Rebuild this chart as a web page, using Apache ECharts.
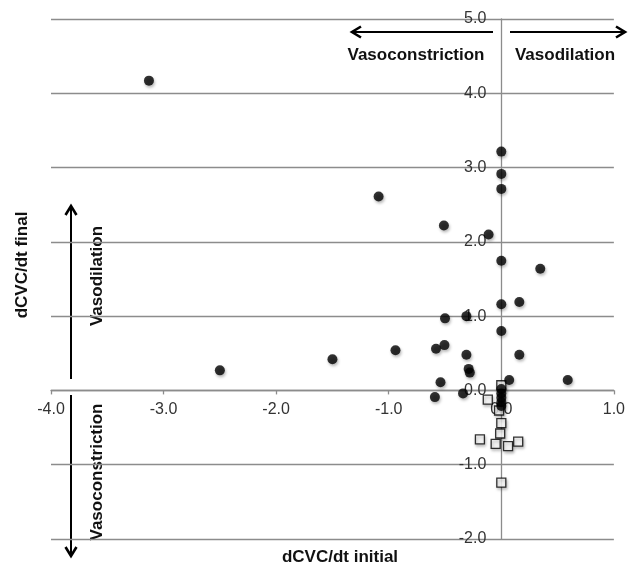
<!DOCTYPE html>
<html>
<head>
<meta charset="utf-8">
<script src="https://cdn.jsdelivr.net/npm/echarts@6/dist/echarts.min.js"></script>
<style>
  html, body { margin: 0; padding: 0; background: #fff; }
  #main { width: 628px; height: 571px; }
</style>
</head>
<body>
<div id="main"></div>
<script>
// filled circles: dCVC/dt initial vs final
var dotInitial = [-3.13, -2.50, -1.50, -1.09, -0.94, -0.58, -0.505, -0.50, -0.51, -0.54, -0.59,
  -0.31, -0.31, -0.29, -0.28, -0.34, -0.113, 0, 0, 0, 0, 0, 0, 0.07, 0.16, 0.16, 0.346, 0.59,
  0, 0, 0, 0, 0];
var dotFinal = [4.17, 0.27, 0.42, 2.61, 0.54, 0.56, 0.61, 0.97, 2.22, 0.11, -0.09,
  1.0, 0.48, 0.29, 0.24, -0.04, 2.10, 3.215, 2.915, 2.713, 1.745, 1.16, 0.80, 0.14, 1.19, 0.48, 1.637, 0.14,
  0.02, -0.04, -0.10, -0.16, -0.21];

// open squares
var sqInitial = [-0.12, 0, -0.02, 0, -0.01, -0.19, -0.05, 0.06, 0.15, 0];
var sqFinal = [-0.125, 0.07, -0.27, -0.44, -0.58, -0.66, -0.72, -0.75, -0.69, -1.24];

var xTicks = [-4, 1, 1];   // min, max, interval
var yTicks = [-2, 5, 1];

function zip(a, b) {
  return a.map(function (v, i) { return [v, b[i]]; });
}

var labelFont = { fontFamily: 'Liberation Sans, Arial, sans-serif', fontSize: 16, color: '#333' };
var boldFont = 'bold 17px "Liberation Sans", Arial, sans-serif';
var gridColor = '#8c8c8c';

function arrow(x1, y1, x2, y2) {
  var dx = x2 - x1, dy = y2 - y1;
  var len = Math.sqrt(dx * dx + dy * dy);
  var ux = dx / len, uy = dy / len;
  var hl = 9, hw = 5.5;
  return [{
    type: 'polyline',
    shape: { points: [[x1, y1], [x2 - ux, y2 - uy]] },
    style: { stroke: '#000', lineWidth: 2, fill: null }
  }, {
    type: 'polyline',
    shape: { points: [
      [x2 - ux * hl - uy * hw, y2 - uy * hl + ux * hw],
      [x2, y2],
      [x2 - ux * hl + uy * hw, y2 - uy * hl - ux * hw]
    ] },
    style: { stroke: '#000', lineWidth: 2.6, fill: null, lineJoin: 'miter' }
  }];
}

function label(text, x, y, rot) {
  return {
    type: 'text', x: x, y: y, rotation: rot || 0,
    style: { text: text, font: boldFont, fill: '#111', align: 'center', verticalAlign: 'middle' }
  };
}

var graphics = []
  .concat(arrow(493, 32, 352, 32))
  .concat(arrow(510, 32, 625, 32))
  .concat(arrow(71, 379, 71, 206))
  .concat(arrow(71, 395, 71, 556))
  .concat([
    label('Vasoconstriction', 416, 55),
    label('Vasodilation', 565, 55),
    label('Vasodilation', 97, 276, Math.PI / 2),
    label('Vasoconstriction', 97, 472, Math.PI / 2),
    label('dCVC/dt final', 22, 265, Math.PI / 2),
    label('dCVC/dt initial', 340, 557)
  ]);

var chart = echarts.init(document.getElementById('main'));
chart.setOption({
  animation: false,
  backgroundColor: '#fff',
  grid: { left: 51, right: 13, top: 19, bottom: 32, containLabel: false },
  xAxis: {
    type: 'value', min: xTicks[0], max: xTicks[1], interval: xTicks[2],
    axisLine: { onZero: false, lineStyle: { color: gridColor, width: 1.3 } },
    axisTick: { show: true, length: 4, lineStyle: { color: gridColor, width: 1.3 } },
    axisLabel: Object.assign({ margin: 11, formatter: function (v) { return v.toFixed(1); } }, labelFont),
    splitLine: { show: false }
  },
  yAxis: {
    type: 'value', min: yTicks[0], max: yTicks[1], interval: yTicks[2],
    axisLine: { show: true, onZero: false, lineStyle: { color: gridColor, width: 1.3 } },
    axisTick: { show: false },
    axisLabel: Object.assign({ margin: 15, formatter: function (v) { return v.toFixed(1); } }, labelFont),
    splitLine: { show: true, lineStyle: { color: gridColor, width: 1.3 } }
  },
  series: [{
    type: 'scatter',
    data: zip(sqInitial, sqFinal),
    symbol: 'rect',
    symbolSize: 9,
    itemStyle: {
      color: '#fff', borderColor: '#000', borderWidth: 1.3,
      shadowColor: 'rgba(0,0,0,0.35)', shadowBlur: 3, shadowOffsetX: 1, shadowOffsetY: 2
    }
  }, {
    type: 'scatter',
    data: zip(dotInitial, dotFinal),
    symbol: 'circle',
    symbolSize: 10,
    itemStyle: {
      color: '#000',
      shadowColor: 'rgba(0,0,0,0.35)', shadowBlur: 3, shadowOffsetX: 1, shadowOffsetY: 2
    }
  }],
  graphic: graphics
});

// move both axes (line, ticks and labels) to cross at the origin
var origin = chart.convertToPixel({ gridIndex: 0 }, [0, 0]);
var corner = chart.convertToPixel({ gridIndex: 0 }, [xTicks[0], yTicks[0]]);
chart.setOption({
  xAxis: { offset: -(corner[1] - origin[1]) },
  yAxis: { offset: -(origin[0] - corner[0]) }
});
</script>
</body>
</html>
